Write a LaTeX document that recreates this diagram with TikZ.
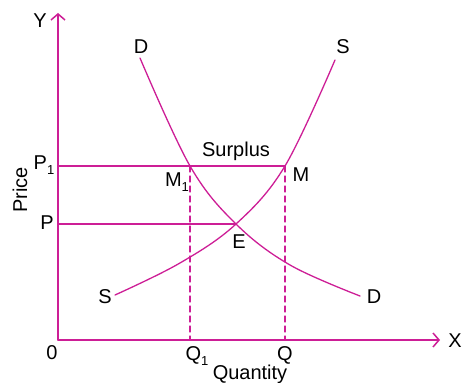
\documentclass[tikz,border=0pt]{standalone}
\usepackage{fontspec}
\setmainfont{Liberation Sans}
\usetikzlibrary{arrows.meta}
\definecolor{curvecol}{RGB}{205,30,150}
% text subscript in the same sans face
\newcommand{\lowsub}[1]{\raisebox{-0.45ex}{\fontsize{13}{13}\selectfont #1}}
\begin{document}
\begin{tikzpicture}[x=1pt, y=1pt, line cap=round, line join=round,
    >={Straight Barb[length=6pt, width=14pt]},
    lab/.style={font=\fontsize{20}{20}\selectfont, inner sep=1pt},
    curve/.style={curvecol, line width=1.3pt},
    guide/.style={curvecol, line width=1.2pt, dash pattern=on 6pt off 4pt}]
    % Bounding box (pixel frame of the reference)
    \useasboundingbox (0,0) rectangle (464,383);

    % Key points
    \coordinate (O) at (58,43);
    \coordinate (M1) at (190,217);
    \coordinate (M) at (285,217);
    \coordinate (E) at (236,159);
    \coordinate (P1) at (58,217);
    \coordinate (P) at (58,159);
    \coordinate (Q1) at (190,43);
    \coordinate (Q) at (285,43);

    % Demand curve D-D
    \draw[curve] plot[smooth, tension=0.6] coordinates
        {(140,325) (M1) (E) (290,118) (360,87)};
    % Supply curve S-S
    \draw[curve] plot[smooth, tension=0.6] coordinates
        {(115,88) (180,120) (E) (M) (335,323)};

    % Price lines
    \draw[curvecol, line width=1.2pt] (P1) -- (M);
    \draw[curvecol, line width=1.2pt] (P) -- (E);

    % Dashed quantity lines
    \draw[guide] (M1) -- (Q1);
    \draw[guide] (M) -- (Q);

    % Axes
    \draw[->, curvecol, line width=1.5pt] (O) -- (440,43) coordinate (xend);
    \draw[->, curvecol, line width=1.5pt] (O) -- (58,370) coordinate (yend);
    \node[lab] (X) at (455,42) {X};
    \node[lab] (Y) at (40,362) {Y};

    % Axis labels
    \node[lab] (zero) at (52,30) {0};
    \node[lab] (lq1) at (197,27) {Q\lowsub{1}};
    \node[lab] (lq) at (285,28) {Q};
    \node[lab] (qty) at (250,9) {Quantity};
    \node[lab] (lp1) at (44,218) {P\lowsub{1}};
    \node[lab] (lp) at (47,160) {P};
    \node[lab, rotate=90] (price) at (20,193) {Price};

    % Curve and point labels
    \node[lab] (d1) at (141,336) {D};
    \node[lab] (s1) at (343,336) {S};
    \node[lab] (s2) at (105,86) {S};
    \node[lab] (d2) at (374,86) {D};
    \node[lab] (surplus) at (236,232) {Surplus};
    \node[lab] (lm1) at (177,201) {M\lowsub{1}};
    \node[lab] (lm) at (301,208) {M};
    \node[lab] (le) at (239,141) {E};
\end{tikzpicture}
\end{document}
